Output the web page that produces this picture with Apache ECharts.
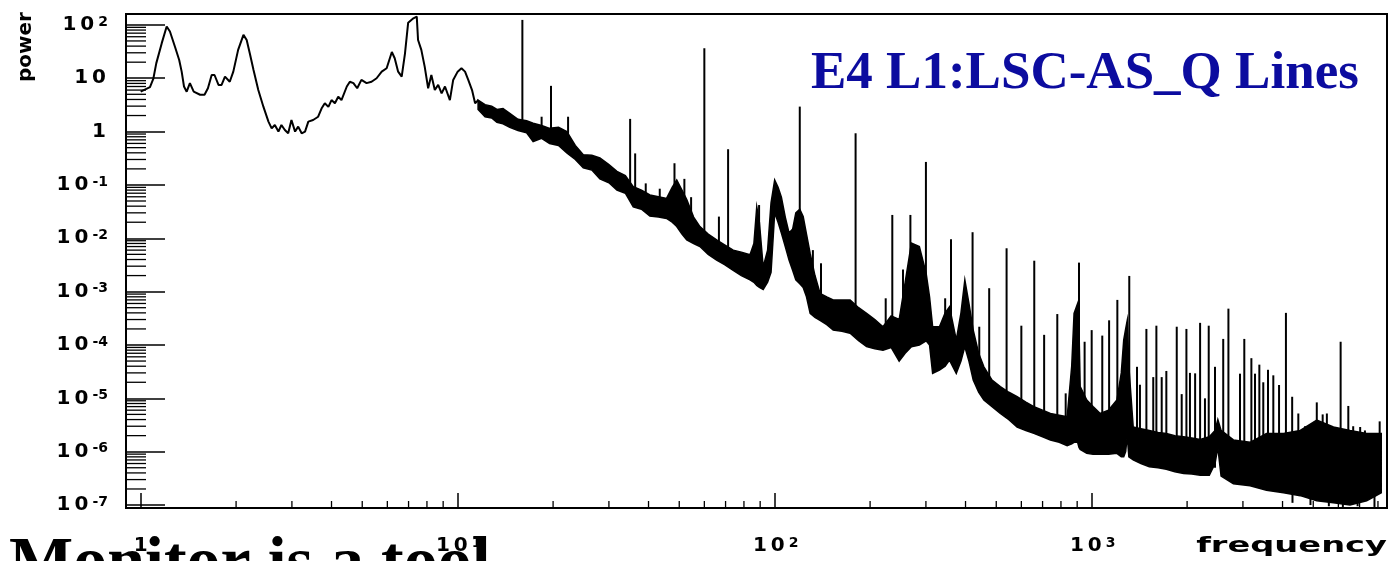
<!DOCTYPE html>
<html><head><meta charset="utf-8">
<script src="https://cdn.jsdelivr.net/npm/echarts@6/dist/echarts.min.js"></script>
<style>html,body{margin:0;padding:0;background:#fff}#c{width:1389px;height:561px}</style>
</head><body><div id="c"></div>
<script>
// ---- data (frequency in Hz, power) ----
const lowFreq = [1.0, 1.07, 1.096, 1.12, 1.165, 1.208, 1.237, 1.283, 1.323, 1.347, 1.37, 1.397, 1.43, 1.47, 1.54, 1.59, 1.63, 1.675, 1.71, 1.76, 1.80, 1.845, 1.91, 1.96, 2.03, 2.11, 2.16, 2.21, 2.27, 2.35, 2.44, 2.53, 2.59, 2.65, 2.72, 2.78, 2.85, 2.92, 2.99, 3.07, 3.14, 3.22, 3.30, 3.38, 3.50, 3.63, 3.72, 3.81, 3.91, 4.0, 4.1, 4.2, 4.3, 4.47, 4.57, 4.69, 4.82, 4.97, 5.16, 5.35, 5.55, 5.76, 5.97, 6.2, 6.33, 6.49, 6.66, 6.82, 6.98, 7.25, 7.43, 7.5, 7.68, 7.87, 8.07, 8.26, 8.47, 8.68, 8.9, 9.12, 9.45, 9.68, 10.0, 10.28, 10.55, 10.8, 11.1, 11.35, 11.63];
const lowPower = [5.6, 6.8, 9.7, 19, 45, 93, 75, 39, 22, 13.3, 7.0, 5.6, 8.1, 5.6, 4.9, 4.9, 6.5, 11.5, 11.5, 7.5, 7.5, 10.7, 8.6, 13.3, 34, 65, 52, 29, 14.3, 6.0, 2.9, 1.54, 1.15, 1.33, 1.0, 1.33, 1.07, 0.93, 1.65, 1.0, 1.24, 0.93, 1.0, 1.54, 1.65, 1.9, 2.7, 3.4, 2.9, 3.9, 3.4, 4.5, 3.9, 7.0, 8.6, 8.1, 6.5, 9.3, 8.1, 8.6, 10, 13.3, 15.4, 31, 23.7, 13.3, 10.7, 29, 110, 133, 143, 52, 34, 16.5, 6.5, 11.5, 6.0, 7.5, 5.2, 7.0, 3.9, 9.3, 13.3, 15.4, 13.3, 9.3, 6.0, 3.4, 3.9];

const bandFreq = [11.6, 12.2, 12.8, 13.3, 13.9, 14.6, 15.5, 16.5, 17.3, 18.4, 19.5, 20.8, 22.1, 23.5, 24.9, 26.5, 28.1, 30, 31.8, 33.8, 35.8, 38, 40.4, 43, 45.6, 47.5, 49.1, 51, 52.8, 55.5, 58.1, 61.7, 65.6, 69.5, 74, 78.5, 83.6, 86, 87.8, 89.5, 92, 95, 97.4, 100, 102.5, 105, 108, 111, 114, 116.6, 120, 123, 126, 129.4, 134, 139, 146, 153, 163, 173, 184, 195, 207, 219.6, 233, 247, 258, 270, 286, 300.5, 308, 315, 331, 345, 356, 374, 387, 398, 410, 423, 440, 457, 485, 515, 548, 582, 620, 657, 700, 741, 790, 837, 865, 880, 903, 912, 920, 965, 1010, 1064, 1130, 1201, 1240, 1262, 1280, 1295, 1310, 1352, 1430, 1520, 1620, 1720, 1830, 1950, 2070, 2200, 2350, 2450, 2500, 2560, 2800, 3160, 3560, 4030, 4550, 5130, 5790, 6530, 7370, 8192];
const bandUpper = [3.9, 3.2, 3.0, 2.6, 2.7, 2.2, 1.7, 1.6, 1.43, 1.3, 1.15, 1.2, 1.0, 0.55, 0.37, 0.36, 0.32, 0.24, 0.18, 0.15, 0.093, 0.08, 0.065, 0.06, 0.056, 0.09, 0.124, 0.08, 0.053, 0.025, 0.0166, 0.012, 0.0093, 0.0075, 0.006, 0.0055, 0.0049, 0.008, 0.039, 0.02, 0.0029, 0.006, 0.046, 0.124, 0.09, 0.059, 0.025, 0.0126, 0.015, 0.03, 0.035, 0.0255, 0.012, 0.0052, 0.002, 0.00093, 0.0008, 0.0007, 0.0007, 0.0007, 0.0005, 0.00039, 0.0003, 0.00022, 0.00035, 0.0003, 0.0015, 0.0081, 0.007, 0.0022, 0.0008, 0.00022, 0.00022, 0.0004, 0.00052, 0.000124, 0.0004, 0.00166, 0.0006, 0.00019, 0.00007, 0.000039, 0.000022, 0.0000166, 0.000013, 0.0000107, 0.0000085, 0.000007, 0.000006, 0.0000052, 0.0000048, 0.0000045, 0.00004, 0.00039, 0.0006, 0.0002, 0.0000166, 0.0000093, 0.000007, 0.0000052, 0.000006, 0.0000093, 0.00003, 0.000124, 0.0002, 0.00029, 0.00004, 0.0000029, 0.0000027, 0.0000025, 0.0000023, 0.0000022, 0.000002, 0.0000019, 0.0000018, 0.0000017, 0.0000019, 0.0000025, 0.000004, 0.0000025, 0.00000166, 0.0000015, 0.0000022, 0.0000022, 0.0000025, 0.0000039, 0.0000029, 0.0000025, 0.0000022, 0.0000022];
const bandLower = [2.6, 1.9, 1.8, 1.5, 1.4, 1.2, 1.05, 0.95, 0.65, 0.75, 0.6, 0.55, 0.4, 0.3, 0.21, 0.19, 0.13, 0.11, 0.08, 0.07, 0.039, 0.035, 0.026, 0.025, 0.0235, 0.02, 0.0166, 0.012, 0.0093, 0.008, 0.007, 0.005, 0.0039, 0.0032, 0.0025, 0.002, 0.00166, 0.0015, 0.0013, 0.0012, 0.0011, 0.0015, 0.0023, 0.03, 0.02, 0.0126, 0.007, 0.0039, 0.0025, 0.00166, 0.0014, 0.0012, 0.0008, 0.00039, 0.00033, 0.00029, 0.00024, 0.00019, 0.00018, 0.000166, 0.00012, 0.000093, 0.000085, 0.00008, 0.00009, 0.00005, 0.00007, 0.000093, 0.0001, 0.00012, 0.0001, 0.0000294, 0.000034, 0.00004, 0.000052, 0.0000294, 0.00005, 0.000093, 0.00005, 0.000022, 0.000013, 0.0000093, 0.000007, 0.0000052, 0.000004, 0.0000029, 0.0000025, 0.0000022, 0.0000019, 0.00000166, 0.0000015, 0.0000013, 0.0000014, 0.0000015, 0.0000015, 0.0000012, 0.0000011, 0.00000093, 0.0000009, 0.0000009, 0.0000009, 0.00000093, 0.0000008, 0.0000008, 0.000001, 0.000002, 0.0000008, 0.0000007, 0.0000006, 0.00000052, 0.0000005, 0.00000047, 0.00000042, 0.00000039, 0.00000038, 0.00000036, 0.00000036, 0.0000006, 0.0000012, 0.00000035, 0.00000025, 0.00000023, 0.00000019, 0.00000017, 0.00000015, 0.00000012, 0.00000011, 0.0000001, 0.00000012, 0.00000017];

const spikeFreq = [16.0, 18.4, 19.7, 22.3, 35.0, 36.3, 39.2, 43.4, 48.3, 51.9, 54.5, 60.0, 66.7, 71.3, 89.3, 120, 132, 140, 180, 224, 235, 254, 268, 300, 345, 360, 421, 442, 475, 539, 600, 659, 708, 779, 828, 912, 950, 1000, 1080, 1135, 1205, 1314, 1390, 1420, 1488, 1564, 1600, 1663, 1720, 1855, 1923, 1990, 2042, 2120, 2198, 2277, 2340, 2449, 2600, 2700, 2937, 3030, 3190, 3275, 3380, 3478, 3600, 3741, 3900, 4100, 4290, 4486, 4710, 5130, 5354, 5520, 6100, 6450, 6683, 7030, 7278, 7650, 8100];
const spikeTop = [124, 1.9, 7.2, 1.9, 1.73, 0.39, 0.107, 0.085, 0.255, 0.13, 0.059, 36.5, 0.0255, 0.467, 0.042, 2.94, 0.006, 0.0034, 0.93, 0.00075, 0.0274, 0.0026, 0.0274, 0.27, 0.00075, 0.0096, 0.013, 0.00022, 0.00116, 0.0065, 0.00023, 0.0038, 0.000155, 0.00038, 0.0000124, 0.0035, 0.000115, 0.00019, 0.00015, 0.00029, 0.0007, 0.00197, 0.000039, 0.000018, 0.0002, 0.000025, 0.00023, 0.000025, 0.0000326, 0.00022, 0.000012, 0.0002, 0.00003, 0.0000294, 0.00026, 0.00001, 0.00023, 0.000039, 0.00013, 0.00048, 0.000029, 0.00013, 0.0000566, 0.000029, 0.0000428, 0.00002, 0.0000343, 0.000027, 0.0000178, 0.0004, 0.0000107, 0.0000052, 0.000003, 0.0000084, 0.000005, 0.0000052, 0.000115, 0.0000072, 0.000003, 0.0000029, 0.0000025, 0.0000022, 0.0000037];
const spikeBase = [1.0, 0.8, 0.7, 0.45, 0.05, 0.045, 0.035, 0.03, 0.025, 0.012, 0.01, 0.007, 0.005, 0.004, 0.0015, 0.002, 0.0005, 0.0004, 0.0002, 0.0001, 0.0001, 0.00008, 0.0001, 0.0003, 0.00005, 0.00006, 0.00003, 0.00002, 0.00001, 0.000006, 0.000004, 0.000003, 0.0000025, 0.000002, 0.0000018, 0.000002, 0.0000015, 0.0000012, 0.0000012, 0.0000012, 0.0000013, 0.000005, 0.000001, 0.000001, 0.0000008, 0.0000008, 0.0000007, 0.0000007, 0.0000006, 0.0000006, 0.0000005, 0.0000005, 0.0000005, 0.0000005, 0.0000005, 0.0000005, 0.0000005, 0.0000005, 0.0000004, 0.0000004, 0.0000003, 0.0000003, 0.0000003, 0.0000003, 0.0000003, 0.0000003, 0.0000003, 0.0000003, 0.0000003, 0.0000003, 0.0000002, 0.0000002, 0.0000002, 0.0000002, 0.0000002, 0.0000002, 0.0000002, 0.0000002, 0.0000002, 0.0000002, 0.0000002, 0.0000002, 0.0000002];

const dipFreq = [4300, 4900, 5600, 6200, 6900, 7800];
const dipTop = [2e-7, 1.8e-7, 1.5e-7, 1.5e-7, 1.4e-7, 1.6e-7];
const dipBottom = [1.1e-7, 1.0e-7, 9.5e-8, 9.2e-8, 9.5e-8, 9.2e-8];

const xRange = [0.899, 8543];
const yRange = [8.8e-8, 160];
const xDecades = [1, 10, 100, 1000];
const yDecades = [1e-7, 1e-6, 1e-5, 1e-4, 1e-3, 1e-2, 1e-1, 1, 10];
const minorMultipliers = [2, 3, 4, 5, 6, 7, 8, 9];

const titleText = 'E4 L1:LSC-AS_Q Lines';
const xName = 'frequency';
const yName = 'power';
const slideText = 'Monitor is a tool';

// ---- build helper tables ----
const xMinorTicks = [];
xDecades.forEach(d => minorMultipliers.forEach(m => { if (m * d < xRange[1]) xMinorTicks.push(m * d); }));
const yMinorTicks = [];
yDecades.forEach(d => minorMultipliers.forEach(m => yMinorTicks.push(m * d)));

function spread(str, style) {
  return str.split('').map(c => '{' + style + '|' + c + '}').join('');
}
function fmt(v, isX) {
  const e = Math.round(Math.log10(v));
  if (e === 0) return spread('1', 'b');
  if (e === 1 && !isX) return spread('10', 'b');
  return spread('10', 'b') + '{s|' + e + '}';
}
const RICH = {
  b: {fontFamily: 'DejaVu Sans', fontWeight: 'bold', fontSize: 20, lineHeight: 20, color: '#000', padding: [10, 2, 10, 2]},
  s: {fontFamily: 'DejaVu Sans', fontWeight: 'bold', fontSize: 14, lineHeight: 14, color: '#000', verticalAlign: 'top', padding: [0, 0, 0, 2]}
};

const chart = echarts.init(document.getElementById('c'), null, {renderer: 'canvas', width: 1389, height: 561});
chart.setOption({
  animation: false,
  backgroundColor: '#ffffff',
  title: {
    text: titleText, left: 806, top: 43,
    textStyle: {fontFamily: 'Liberation Serif', fontWeight: 'bold', fontSize: 53, color: '#0c0c9f'}
  },
  grid: {left: 126, top: 14, right: 2, bottom: 53, show: true, borderColor: '#000', borderWidth: 2, backgroundColor: 'transparent', containLabel: false, outerBoundsMode: 'none'},
  xAxis: {
    type: 'log', logBase: 10, min: xRange[0], max: xRange[1], splitNumber: 5,
    axisLine: {show: true, onZero: false, lineStyle: {color: '#000', width: 2}},
    axisTick: {show: true, inside: true, length: 15, lineStyle: {color: '#000', width: 1.5}},
    splitLine: {show: false}, minorTick: {show: false},
    axisLabel: {show: true, interval: 0, showMinLabel: false, showMaxLabel: false, margin: 28, formatter: v => fmt(v, true), rich: RICH}
  },
  yAxis: {
    type: 'log', logBase: 10, min: yRange[0], max: yRange[1], splitNumber: 10,
    axisLine: {show: true, onZero: false, lineStyle: {color: '#000', width: 2}},
    axisTick: {show: true, inside: true, length: 39, lineStyle: {color: '#000', width: 1.5}},
    splitLine: {show: false}, minorTick: {show: false},
    axisLabel: {show: true, interval: 0, showMinLabel: false, showMaxLabel: false, margin: 18, formatter: v => fmt(v, false), rich: RICH}
  },
  series: [
    { // thin low-frequency trace
      type: 'line', showSymbol: false, silent: true,
      data: lowFreq.map((f, i) => [f, lowPower[i]]),
      lineStyle: {color: '#000', width: 2}
    },
    { // dense noise band
      type: 'custom', silent: true,
      data: bandFreq.map((f, i) => [f, bandUpper[i], bandLower[i]]),
      encode: {x: 0, y: [1, 2]},
      renderItem: function (params, api) {
        if (params.dataIndex !== 0) return null;
        const pts = [];
        for (let i = 0; i < bandFreq.length; i++) pts.push(api.coord([bandFreq[i], bandUpper[i]]));
        for (let i = bandFreq.length - 1; i >= 0; i--) pts.push(api.coord([bandFreq[i], bandLower[i]]));
        return {type: 'polygon', shape: {points: pts}, style: {fill: '#000', stroke: '#000', lineWidth: 1.5}};
      }
    },
    { // line spikes
      type: 'custom', silent: true,
      data: spikeFreq.map((f, i) => [f, spikeTop[i], spikeBase[i]]).concat(dipFreq.map((f, i) => [f, dipTop[i], dipBottom[i]])),
      encode: {x: 0, y: [1, 2]},
      renderItem: function (params, api) {
        const a = api.coord([api.value(0), api.value(2)]);
        const b = api.coord([api.value(0), api.value(1)]);
        return {type: 'line', shape: {x1: a[0], y1: a[1], x2: b[0], y2: b[1]}, style: {stroke: '#000', lineWidth: 2}};
      }
    },
    { // y minor ticks
      type: 'custom', silent: true,
      data: yMinorTicks.map(v => [xRange[0], v]),
      encode: {x: 0, y: 1},
      renderItem: function (params, api) {
        const p = api.coord([api.value(0), api.value(1)]);
        const x0 = params.coordSys.x;
        return {type: 'line', shape: {x1: x0, y1: p[1], x2: x0 + 20, y2: p[1]}, style: {stroke: '#000', lineWidth: 1.3}};
      }
    },
    { // x minor ticks
      type: 'custom', silent: true,
      data: xMinorTicks.map(v => [v, yRange[0]]),
      encode: {x: 0, y: 1},
      renderItem: function (params, api) {
        const p = api.coord([api.value(0), api.value(1)]);
        const y0 = params.coordSys.y + params.coordSys.height;
        return {type: 'line', shape: {x1: p[0], y1: y0, x2: p[0], y2: y0 - 7}, style: {stroke: '#000', lineWidth: 1.3}};
      }
    }
  ],
  graphic: [
    {type: 'text', x: 26, y: 47, rotation: Math.PI / 2, z: 10,
     style: {text: yName, font: 'bold 20px "DejaVu Sans"', fill: '#000', align: 'center', verticalAlign: 'middle', textAlign: 'center', textVerticalAlign: 'middle'}},
    {type: 'text', x: 1387, y: 546, scaleX: 1.53, z: 10,
     style: {text: xName, font: 'bold 22px "DejaVu Sans"', fill: '#000', align: 'right', verticalAlign: 'middle', textAlign: 'right', textVerticalAlign: 'middle'}},
    {type: 'text', x: 9, y: 565, z: 0,
     style: {text: slideText, font: 'bold 68px "Liberation Serif"', fill: '#000', align: 'left', verticalAlign: 'middle', textAlign: 'left', textVerticalAlign: 'middle'}}
  ]
});
</script>
</body></html>
